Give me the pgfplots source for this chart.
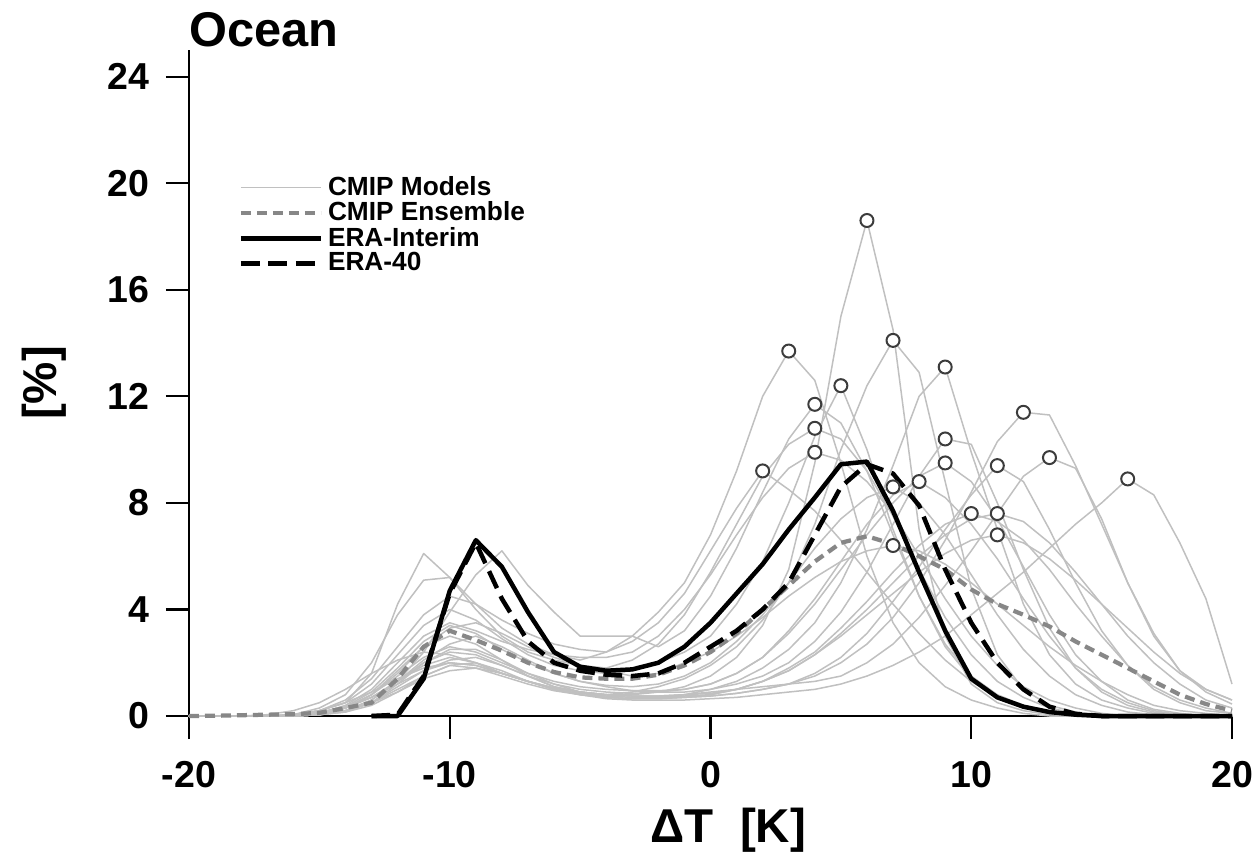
\documentclass[border=0pt]{standalone}
\usepackage{pgfplots}
\pgfplotsset{compat=1.18}
\usepackage{pgfplotstable}
\usepackage{fontspec}
\setmainfont{Liberation Sans}

\definecolor{modelgray}{RGB}{192,192,192}
\definecolor{ensgray}{RGB}{135,135,135}
\definecolor{circgray}{RGB}{60,60,60}

\pgfplotstableread{
x m1 m2 m3 m4 m5 m6 m7 m8 m9 m10 m11 m12 m13 m14 m15 m16 m17 m18 m19 m20 m21 ens erai era40
-20 0 0 0 0 0 0 0 0 0 0 0 0 0 0 0 0 0 0 0 0 0 0 nan nan
-19 0 0 0 0 0 0 0 0 0 0 0 0 0 0 0 0 0 0 0 0 0 0.01 nan nan
-18 0 0 0 0 0 0 0 0 0 0 0 0 0 0 0 0 0 0 0 0 0 0.03 nan nan
-17 0 0 0 0 0 0 0 0 0 0 0 0 0 0 0 0 0 0 0.05 0 0 0.05 nan nan
-16 0 0.05 0 0 0.05 0 0.05 0 0.05 0 0 0 0 0 0.05 0 0 0 0.2 0.05 0 0.07 nan nan
-15 0.05 0.2 0.05 0.05 0.2 0.1 0.3 0.1 0.15 0.05 0.1 0.05 0.1 0.05 0.2 0.1 0.05 0.05 0.5 0.2 0.1 0.12 nan nan
-14 0.2 0.5 0.3 0.15 0.5 0.3 0.8 0.4 0.35 0.2 0.3 0.2 0.3 0.15 0.6 0.35 0.2 0.2 1.0 0.5 0.3 0.3 nan nan
-13 0.6 1.6 0.8 0.5 1.2 0.7 2.0 1.0 0.7 0.5 0.7 0.6 0.8 0.4 1.4 0.9 0.5 0.5 1.6 0.9 0.8 0.5 0 0
-12 1.3 4.2 1.7 1.2 2.3 1.3 3.8 2.0 1.2 0.9 1.3 1.3 1.5 0.9 2.6 1.8 1.1 1.0 2.1 1.4 1.6 1.4 0 0.05
-11 2.0 6.1 2.6 2.0 3.4 2.4 5.1 3.0 1.7 1.4 1.9 2.1 2.2 1.5 3.8 2.8 1.7 1.5 2.4 1.8 2.6 2.6 1.4 1.5
-10 2.4 5.2 3.0 2.5 4.0 3.9 5.2 3.5 2.0 1.7 2.2 2.7 2.6 1.9 4.5 3.4 2.1 1.9 2.3 2.0 3.3 3.2 4.7 4.6
-9 2.3 4.2 2.7 2.5 3.6 5.3 4.0 3.2 1.9 1.8 2.0 3.0 2.4 2.0 4.2 3.1 2.2 1.8 2.0 1.9 3.5 2.85 6.6 6.5
-8 1.9 3.3 2.1 2.1 2.9 6.2 3.0 2.8 1.6 1.6 1.6 2.6 2.0 1.7 3.6 2.5 1.9 1.5 1.6 1.6 3.1 2.45 5.6 4.4
-7 1.5 2.7 1.5 1.6 2.3 4.9 2.4 2.5 1.3 1.3 1.3 2.1 1.6 1.3 3.1 2.0 1.5 1.2 1.3 1.3 2.6 2.0 3.9 2.8
-6 1.1 2.3 1.1 1.2 1.9 3.9 2.1 2.3 1.0 1.0 1.05 1.6 1.3 1.0 2.7 1.6 1.2 0.95 1.05 1.05 2.2 1.65 2.4 2.0
-5 0.9 2.1 0.9 0.9 1.7 3.0 1.9 2.2 0.85 0.8 0.9 1.3 1.1 0.8 2.5 1.3 1.0 0.8 0.9 0.9 1.9 1.45 1.85 1.7
-4 0.8 2.4 0.8 0.7 1.6 3.0 1.8 2.2 0.75 0.65 0.8 1.1 1.0 0.7 2.4 1.15 0.9 0.7 0.8 0.8 1.7 1.4 1.7 1.55
-3 0.8 3.0 0.9 0.65 1.7 3.0 2.1 2.4 0.7 0.6 0.75 0.95 0.95 0.65 2.8 1.1 0.85 0.65 0.75 0.75 1.5 1.4 1.75 1.5
-2 0.9 3.9 1.1 0.7 2.0 2.6 2.7 3.0 0.7 0.6 0.75 0.9 0.95 0.65 3.5 1.2 0.9 0.65 0.75 0.75 1.6 1.55 2.0 1.6
-1 1.1 5.0 1.4 0.8 2.4 3.2 3.8 4.0 0.7 0.6 0.8 0.9 1.0 0.7 4.6 1.5 1.0 0.7 0.8 0.75 2.0 1.9 2.6 2.0
0 1.5 6.8 1.9 1.0 3.0 4.5 5.4 5.3 0.75 0.65 0.9 1.0 1.2 0.75 6.2 2.0 1.2 0.8 0.85 0.8 2.4 2.4 3.5 2.6
1 2.2 9.2 2.6 1.3 4.2 6.3 7.2 6.8 0.85 0.7 1.0 1.2 1.6 0.85 7.8 2.8 1.6 1.0 1.0 1.0 3.0 3.1 4.6 3.2
2 3.4 12.0 3.6 1.8 5.8 8.4 9.0 8.2 1.0 0.8 1.1 1.5 2.2 1.0 9.2 3.8 2.2 1.3 1.3 1.3 3.7 4.0 5.7 4.0
3 5.5 13.7 5.0 2.5 8.0 10.4 10.2 9.3 1.2 0.9 1.2 2.0 3.1 1.2 8.5 5.0 3.2 1.8 1.7 1.7 4.5 4.9 7.0 5.0
4 9.5 12.6 7.2 3.5 10.5 11.7 10.8 9.9 1.5 1.0 1.3 2.8 4.2 1.6 7.7 6.3 4.4 2.4 2.3 2.3 5.2 5.8 8.2 6.8
5 15.0 9.5 10.0 5.0 12.4 11.0 10.4 9.6 2.0 1.2 1.5 3.9 5.5 2.2 6.6 7.4 5.8 3.3 3.1 3.0 5.8 6.5 9.45 8.6
6 18.6 6.0 12.4 7.0 10.0 9.2 9.2 8.8 2.7 1.5 2.0 5.4 6.8 3.1 5.4 8.2 7.2 4.3 4.0 3.8 6.2 6.75 9.55 9.45
7 14.5 3.5 14.1 9.4 7.0 6.8 7.5 7.6 3.7 1.9 2.7 7.2 8.0 4.3 4.2 8.6 8.3 5.4 5.0 4.6 6.4 6.45 7.7 9.1
8 7.0 2.0 12.9 12.0 4.5 4.5 5.5 6.0 5.0 2.4 3.7 9.0 9.0 5.6 3.1 8.0 8.8 6.4 6.0 5.4 6.2 6.0 5.4 7.9
9 3.0 1.1 8.8 13.1 2.6 2.7 3.7 4.4 6.6 3.0 4.9 10.4 9.5 7.0 2.1 6.8 8.2 7.2 6.8 6.1 5.7 5.5 3.2 5.5
10 1.2 0.6 4.8 9.9 1.4 1.5 2.3 3.0 8.4 3.8 6.2 10.2 8.8 8.3 1.3 5.3 7.2 7.6 7.4 6.6 5.0 4.75 1.4 3.5
11 0.5 0.3 2.3 7.0 0.7 0.8 1.3 1.9 10.3 4.6 7.6 8.0 7.4 9.4 0.7 3.8 5.9 7.3 7.6 6.8 4.2 4.2 0.7 2.0
12 0.2 0.1 1.0 4.2 0.3 0.4 0.7 1.1 11.4 5.4 9.0 5.5 5.6 8.8 0.3 2.5 4.4 6.6 7.3 6.5 3.4 3.8 0.35 1.0
13 0.05 0 0.4 2.3 0.1 0.15 0.3 0.6 11.3 6.3 9.7 3.3 3.8 7.0 0.1 1.5 3.0 5.5 6.5 5.9 2.6 3.36 0.15 0.35
14 0 0 0.15 1.2 0 0.05 0.1 0.3 9.4 7.2 9.3 1.8 2.3 5.0 0 0.8 1.8 4.2 5.4 5.1 1.9 2.8 0.05 0.08
15 0 0 0.05 0.6 0 0 0 0.1 7.2 8.0 7.4 0.9 1.3 3.2 0 0.4 1.0 3.0 4.2 4.2 1.3 2.3 0 0
16 0 0 0 0.3 0 0 0 0 5.0 8.9 5.0 0.4 0.6 1.9 0 0.15 0.5 1.9 3.0 3.3 0.8 1.8 0 0
17 0 0 0 0.1 0 0 0 0 3.1 8.3 3.0 0.15 0.25 1.0 0 0.05 0.2 1.1 2.0 2.4 0.4 1.3 0 0
18 0 0 0 0 0 0 0 0 1.7 6.5 1.7 0.05 0.1 0.5 0 0 0.05 0.6 1.2 1.6 0.2 0.8 0 0
19 0 0 0 0 0 0 0 0 0.9 4.4 1.0 0 0 0.2 0 0 0 0.3 0.6 1.0 0.1 0.45 0 0
20 0 0 0 0 0 0 0 0 0.45 1.2 0.6 0 0 0.1 0 0 0 0.1 0.3 0.6 0 0.2 0 0
}\datatable

\begin{document}
\begin{tikzpicture}
\begin{axis}[
  at={(0pt,0pt)}, anchor=south west,
  scale only axis, width=417.2pt, height=266.4pt,
  xmin=-20, xmax=20, ymin=0, ymax=25,
  axis lines*=left,
  axis line style={line width=0.9pt, black},
  xtick={-20,-10,0,10,20}, xticklabels={-20,-10,0,10,20},
  ytick={0,4,8,12,16,20,24}, yticklabels={0,4,8,12,16,20,24},
  tick align=outside, major tick length=9.2pt,
  tick style={line width=0.9pt, black},
  tick label style={font=\fontsize{15}{15}\selectfont\bfseries},
  xticklabel style={yshift=-5.5pt},
  yticklabel style={xshift=-3pt},
  xlabel={ΔT\ \ [K]}, ylabel={[\%]},
  label style={font=\fontsize{19}{19}\selectfont\bfseries},
  xlabel style={at={(axis description cs:0.517,-0.171)}, anchor=center},
  ylabel style={at={(axis description cs:-0.139,0.5)}, anchor=center},
  title={Ocean},
  title style={at={(axis description cs:0,1)}, anchor=base west, inner sep=0pt, yshift=-4.6pt, font=\fontsize{19.5}{19.5}\selectfont\bfseries},
  clip=false,
  legend style={at={(axis description cs:0.047,0.819)}, anchor=north west, draw=none, fill=none, inner sep=0pt,
    font=\fontsize{10.5}{10.5}\selectfont\bfseries, row sep=-2.9pt},
  legend cell align=left,
  legend image code/.code={\draw[#1] (0pt,0pt) -- (32pt,0pt);},
  modelstyle/.style={color=modelgray, line width=0.6pt, line join=round},
]
\addplot[modelstyle] table[x=x,y=m1]{\datatable}; \addlegendentry{CMIP Models}
\addplot[modelstyle, forget plot] table[x=x,y=m2]{\datatable};
\addplot[modelstyle, forget plot] table[x=x,y=m3]{\datatable};
\addplot[modelstyle, forget plot] table[x=x,y=m4]{\datatable};
\addplot[modelstyle, forget plot] table[x=x,y=m5]{\datatable};
\addplot[modelstyle, forget plot] table[x=x,y=m6]{\datatable};
\addplot[modelstyle, forget plot] table[x=x,y=m7]{\datatable};
\addplot[modelstyle, forget plot] table[x=x,y=m8]{\datatable};
\addplot[modelstyle, forget plot] table[x=x,y=m9]{\datatable};
\addplot[modelstyle, forget plot] table[x=x,y=m10]{\datatable};
\addplot[modelstyle, forget plot] table[x=x,y=m11]{\datatable};
\addplot[modelstyle, forget plot] table[x=x,y=m12]{\datatable};
\addplot[modelstyle, forget plot] table[x=x,y=m13]{\datatable};
\addplot[modelstyle, forget plot] table[x=x,y=m14]{\datatable};
\addplot[modelstyle, forget plot] table[x=x,y=m15]{\datatable};
\addplot[modelstyle, forget plot] table[x=x,y=m16]{\datatable};
\addplot[modelstyle, forget plot] table[x=x,y=m17]{\datatable};
\addplot[modelstyle, forget plot] table[x=x,y=m18]{\datatable};
\addplot[modelstyle, forget plot] table[x=x,y=m19]{\datatable};
\addplot[modelstyle, forget plot] table[x=x,y=m20]{\datatable};
\addplot[modelstyle, forget plot] table[x=x,y=m21]{\datatable};
\addplot[color=ensgray, line width=1.7pt, dash pattern=on 4pt off 2.4pt] table[x=x,y=ens]{\datatable}; \addlegendentry{CMIP Ensemble}
\addplot[color=black, line width=1.8pt, line join=round] table[x=x,y=erai]{\datatable}; \addlegendentry{ERA-Interim}
\addplot[color=black, line width=1.8pt, dash pattern=on 7.5pt off 3.5pt, line join=round] table[x=x,y=era40]{\datatable}; \addlegendentry{ERA-40}
\addplot[only marks, mark=*, mark size=2.6pt, mark options={draw=circgray, fill=white, line width=0.8pt}, forget plot] coordinates {
(6,18.6) (3,13.7) (7,14.1) (9,13.1) (5,12.4) (4,11.7) (4,10.8) (4,9.9) (12,11.4) (16,8.9) (13,9.7)
(9,10.4) (9,9.5) (11,9.4) (2,9.2) (7,8.6) (8,8.8) (10,7.6) (11,7.6) (11,6.8) (7,6.4)};
\end{axis}
\pgfresetboundingbox
\path[use as bounding box] (-75.6pt,-54.8pt) rectangle (426.8pt,286.4pt);
\end{tikzpicture}
\end{document}
